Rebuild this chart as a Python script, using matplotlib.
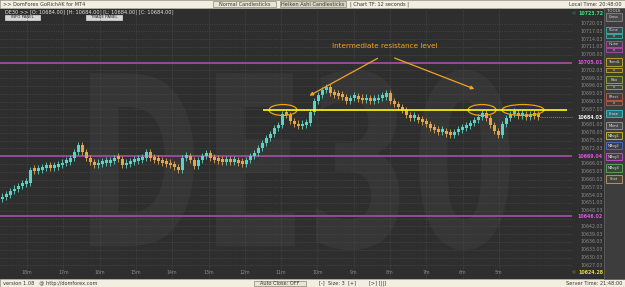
import numpy as np
import matplotlib.pyplot as plt
from matplotlib.patches import Rectangle, Ellipse, PathPatch
from matplotlib.textpath import TextPath
from matplotlib.font_manager import FontProperties
from matplotlib.transforms import Affine2D, blended_transform_factory

# closing prices of the heiken ashi bars (12 s chart)
closes = [10653.3, 10654.1, 10655.6, 10656.4, 10657.6, 10658.3, 10658.7, 10663.7, 10663.3, 10663.7,
          10664.5, 10664.9, 10664.5, 10664.9, 10665.6, 10666.4, 10666.8, 10668.3, 10670.6, 10673.3,
          10670.6, 10668.3, 10666.8, 10665.6, 10666.0, 10666.4, 10666.4, 10667.2, 10668.3, 10668.0,
          10665.6, 10666.0, 10666.8, 10667.2, 10667.6, 10668.3, 10670.6, 10668.3, 10667.6, 10667.2,
          10666.4, 10666.0, 10665.6, 10664.9, 10663.7, 10668.3, 10669.1, 10667.6, 10665.3, 10667.6,
          10669.1, 10670.3, 10668.3, 10667.6, 10667.2, 10666.8, 10667.2, 10666.8, 10667.2, 10666.4,
          10666.0, 10667.6, 10669.1, 10670.3, 10672.2, 10674.1, 10676.0, 10677.6, 10679.9, 10681.0,
          10685.3, 10684.9, 10682.6, 10681.4, 10680.6, 10681.0, 10681.8, 10686.0, 10690.3, 10692.6,
          10694.5, 10695.6, 10693.3, 10692.6, 10692.2, 10691.8, 10690.3, 10691.4, 10691.8, 10691.0,
          10690.6, 10691.0, 10690.3, 10690.6, 10691.4, 10691.8, 10693.3, 10690.3, 10689.1, 10688.0,
          10686.8, 10684.9, 10683.7, 10684.1, 10683.0, 10682.2, 10681.4, 10679.9, 10679.1, 10678.3,
          10678.7, 10677.6, 10677.2, 10678.3, 10679.1, 10679.9, 10680.6, 10681.8, 10683.0, 10684.1,
          10685.6, 10683.7, 10681.0, 10678.7, 10677.2, 10681.4, 10683.7, 10685.3, 10685.6, 10684.5,
          10684.9, 10684.1, 10684.9, 10684.5, 10684.1]

level_prices = [10705.01, 10669.04, 10646.02]
level_labels = ['10705.01', '10669.04', '10646.02']
resistance = 10686.8
last_price = 10684.03
high_price = 10723.72
low_price = 10624.28

grid_prices = [10720.03, 10717.03, 10714.03, 10711.03, 10708.03, 10705.03, 10702.03, 10699.03,
               10696.03, 10693.03, 10690.03, 10687.03, 10684.03, 10681.03, 10678.03, 10675.03,
               10672.03, 10669.03, 10666.03, 10663.03, 10660.03, 10657.03, 10654.03, 10651.03,
               10648.03, 10645.03, 10642.03, 10639.03, 10636.03, 10633.03, 10630.03, 10627.03]
time_labels = ['18m', '17m', '16m', '15m', '14m', '13m', '12m', '11m', '10m', '9m', '8m', '7m', '6m', '5m']
ellipse_bars = [70.25, 120.0, 130.25]
ellipse_widths = [7.0, 7.0, 10.5]

BG = '#2e2e2e'
UP = '#5cd3c2'
DOWN = '#e2a74c'
BAR = '#f3efe0'

fig = plt.figure(figsize=(6.25, 2.87), dpi=100)

# ---- background layer in pixel coordinates
bg = fig.add_axes([0, 0, 1, 1], zorder=0)
bg.set_xlim(0, 625)
bg.set_ylim(287, 0)
bg.axis('off')
bg.add_patch(Rectangle((0, 0), 625, 287, fc=BG, ec='none'))

# watermark
tp = TextPath((0, 0), 'DE30', size=100, prop=FontProperties(family='DejaVu Sans', weight='bold'))
ext = tp.get_extents()
tr = Affine2D().translate(-ext.x0, -ext.y0).scale(420 / ext.width, -180 / ext.height).translate(90, 250)
bg.add_patch(PathPatch(tr.transform_path(tp), fc='#363636', ec='none'))

# top bar
bg.add_patch(Rectangle((0, 0), 625, 8, fc=BAR, ec='#bdb8a6', lw=0.5))
fs = 3.6
bg.text(3, 4.2, '>> DomForex GoRichAK for MT4', fontsize=fs, color='#333333', va='center')
bg.add_patch(Rectangle((213, 1), 63, 6, fc='#ebe6d3', ec='#8a8676', lw=0.5))
bg.text(244.5, 4.2, 'Normal Candlesticks', fontsize=fs, color='#333333', va='center', ha='center')
bg.add_patch(Rectangle((280, 1), 66, 6, fc='#d9d4c0', ec='#8a8676', lw=0.5))
bg.text(313, 4.2, 'Heiken Ashi Candlesticks', fontsize=fs, color='#333333', va='center', ha='center')
bg.text(350, 4.2, '| Chart TF: 12 seconds |', fontsize=fs, color='#333333', va='center')
bg.text(622, 4.2, 'Local Time: 20:48:00', fontsize=fs, color='#333333', va='center', ha='right')

# ohlc row and panel buttons
bg.text(5, 11.5, 'DE30 >> [O: 10684.00] [H: 10684.00] [L: 10684.00] [C: 10684.00]',
        fontsize=fs, color='#e8e8e8', va='center')
for x0, w, lab in [(5, 35, 'INFO PANEL'), (86, 36, 'TRADE PANEL')]:
    bg.add_patch(Rectangle((x0, 14.5), w, 5, fc='#d6d6d6', ec='#f0f0f0', lw=0.4))
    bg.text(x0 + w / 2, 17.1, lab, fontsize=2.8, color='#222222', va='center', ha='center')

# bottom bar
bg.add_patch(Rectangle((0, 279), 625, 8, fc=BAR, ec='#bdb8a6', lw=0.5))
bg.text(3, 283.2, 'version 1.08   @ http://domforex.com', fontsize=fs, color='#333333', va='center')
bg.add_patch(Rectangle((254, 280.5), 52, 5.5, fc='#ebe6d3', ec='#8a8676', lw=0.5))
bg.text(280, 283.2, 'Auto Close: OFF', fontsize=fs, color='#333333', va='center', ha='center')
bg.text(338, 283.2, '[-]  Size: 3  [+]', fontsize=fs, color='#333333', va='center', ha='center')
bg.text(378, 283.2, '[>] [||]', fontsize=fs, color='#333333', va='center', ha='center')
bg.text(622, 283.2, 'Server Time: 21:48:00', fontsize=fs, color='#333333', va='center', ha='right')

# tools panel
bg.add_patch(Rectangle((604, 8), 21, 271, fc='#3d3d3d', ec='#6a6a6a', lw=0.5))
bg.text(614, 10.5, 'TOOLS', fontsize=2.8, color='#dddddd', va='center', ha='center')
buttons = [('Cross', 13, 8, '#888888', '#4a4a4a'), ('VLine', 27, 6, '#3fb7b0', '#3c4646'),
           ('x', 34, 4, '#3fb7b0', '#3c4646'), ('HLine', 41, 6, '#b050b0', '#463c46'),
           ('x', 48, 4, '#b050b0', '#463c46'), ('TrendL', 58, 8, '#c8b030', '#46433a'),
           ('x', 68, 4, '#c8b030', '#46433a'), ('Fibo', 76, 7, '#a0b040', '#43463a'),
           ('x', 85, 4, '#a0b040', '#43463a'), ('FRect', 93, 7, '#c85a40', '#463c3a'),
           ('x', 101, 4, '#c85a40', '#463c3a'), ('Erase', 110, 7, '#40c0c0', '#2f6e70'),
           ('Mkmt', 122, 7, '#999999', '#4a4a4a'), ('MAvg1', 132, 7, '#d0c030', '#48463a'),
           ('MAvg2', 142, 7, '#5070d0', '#3a3e4a'), ('MAvg3', 153, 7, '#d050d0', '#483a48'),
           ('MAvg4', 164, 8, '#60b060', '#3a463a'), ('Shot', 175, 8, '#c0a070', '#48443c')]
for lab, y0, h, ec, fc in buttons:
    bg.add_patch(Rectangle((606, y0), 16, h, fc=fc, ec=ec, lw=0.6))
    bg.text(614, y0 + h / 2 + 0.3, lab, fontsize=2.5, color='#e0e0e0', va='center', ha='center')

# ---- price chart
top_px, bot_px, right_px = 8, 279, 575
px_per_pt = 2.6
y_top = high_price + (14 - top_px) / px_per_pt
y_bot = high_price - (bot_px - 14) / px_per_pt
ax = fig.add_axes([0, (287 - bot_px) / 287, right_px / 625, (bot_px - top_px) / 287], zorder=1)
ax.set_facecolor('none')
ax.set_xlim(-0.5, (right_px - 2) / 4)
ax.set_ylim(y_bot, y_top)
ax.axis('off')

x_end = (572 - 2) / 4
grid_color = '#4f4f4f'
ax.hlines(grid_prices, -0.5, x_end, colors=grid_color, linestyles=(0, (1, 1.5)), lw=0.5, zorder=1)
tick_x = [(27 - 2) / 4 + 9.075 * k for k in range(len(time_labels))]
ax.vlines(tick_x, y_bot, y_top, colors=grid_color, linestyles=(0, (1, 1.5)), lw=0.5, zorder=1)
tb = blended_transform_factory(ax.transData, ax.transAxes)
for tx, lab in zip(tick_x, time_labels):
    ax.text(tx, 0.015, lab, transform=tb, fontsize=3.4, color='#8a8a8a', ha='center', va='bottom')

# support / resistance levels
ax.hlines(level_prices, -0.5, x_end, colors='#9c4c9c', lw=1.3, zorder=2)

# candles
closes = np.array(closes)
opens = np.r_[closes[0] - 0.8, closes[:-1]]
idx = np.arange(len(closes))
up = closes >= opens
bottoms = np.minimum(opens, closes)
heights = np.maximum(np.abs(closes - opens), 1.0)
cols = np.where(up, UP, DOWN)
ax.vlines(idx, bottoms - 1.2, bottoms + heights + 1.2, colors=cols, lw=0.6, zorder=3)
ax.bar(idx, heights, bottom=bottoms, width=0.75, color=cols, lw=0, zorder=3)

# current price
ax.hlines(last_price, idx[-1] + 0.5, x_end, colors='#9a9a9a', linestyles=(0, (1, 1.5)), lw=0.6, zorder=3)

# resistance line and marked touches
for xb, w in zip(ellipse_bars, ellipse_widths):
    ax.add_patch(Ellipse((xb, resistance), w, 4.2, fc='#283052', ec='none', alpha=0.55, zorder=2.5))
    ax.add_patch(Ellipse((xb, resistance), w, 4.2, fc='none', ec='#f0a400', lw=0.9, zorder=4))
ax.hlines(resistance, (263 - 2) / 4, (567 - 2) / 4, colors='#ffff00', lw=1.2, zorder=5)

# price scale labels
lab_x = (603 - 2) / 4
for p in grid_prices:
    if min(abs(p - s) for s in level_prices) < 1.5 or abs(p - last_price) < 0.01:
        continue
    ax.text(lab_x, p, f'{p:.2f}', fontsize=3.4, color='#8c8c8c', ha='right', va='center', clip_on=False)
for p, lab in zip(level_prices, level_labels):
    ax.text(lab_x, p, lab, fontsize=3.4, color='#e452e4', ha='right', va='center',
            fontweight='bold', clip_on=False)
ax.text(lab_x, last_price, f'{last_price:.2f}', fontsize=3.4, color='#f2f2f2', ha='right',
        va='center', fontweight='bold', clip_on=False)
ax.text(lab_x, high_price, f'{high_price:.2f}', fontsize=3.4, color='#40e07c', ha='right',
        va='center', fontweight='bold', clip_on=False)
ax.text(lab_x, low_price, f'{low_price:.2f}', fontsize=3.4, color='#e8d840', ha='right',
        va='center', fontweight='bold', clip_on=False)
for p, c in [(high_price, '#40e07c'), (low_price, '#e8d840')]:
    ax.text((573 - 2) / 4, p, '\u25c1', fontsize=3, color=c, ha='center', va='center', clip_on=False)

# ---- annotation layer
ov = fig.add_axes([0, 0, 1, 1], zorder=2)
ov.set_xlim(0, 625)
ov.set_ylim(287, 0)
ov.axis('off')
ov.text(385, 46, 'Intermediate resistance level', fontsize=5.2, color='#f0a428', ha='center', va='center')
for start, end in [((380, 57), (307, 97)), ((392, 57), (477, 90))]:
    ov.annotate('', xy=end, xytext=start,
                arrowprops=dict(arrowstyle='-|>', color='#f0a428', lw=0.9, mutation_scale=5))

fig.savefig('out.png', dpi=100)
